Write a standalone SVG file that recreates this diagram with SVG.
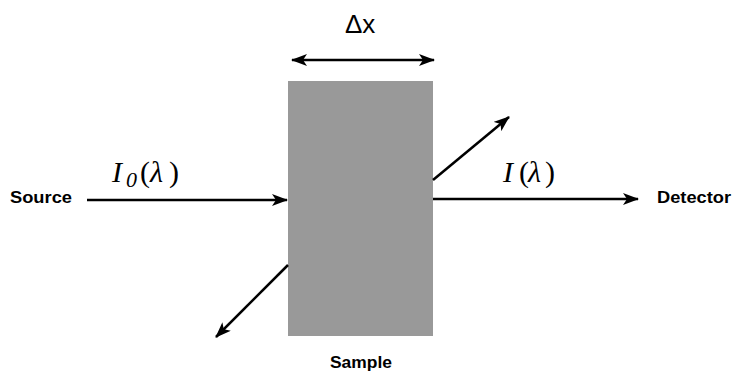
<svg xmlns="http://www.w3.org/2000/svg" width="732" height="373" viewBox="0 0 732 373">
<defs>
<marker id="ah" viewBox="0 0 16 12" refX="15" refY="6" markerWidth="16" markerHeight="12" markerUnits="userSpaceOnUse" orient="auto-start-reverse">
<path d="M0,0 L16,6 L0,12 L4,6 Z" fill="#000"/>
</marker>
<style>
.lbl{font-family:"Liberation Sans",Arial,sans-serif;font-weight:bold;font-size:16px;fill:#000}
.math{font-family:"Liberation Serif","Times New Roman",serif;font-size:30px;fill:#000}
.cn{stroke:#000;stroke-width:2.5;fill:none;marker-end:url(#ah)}
</style>
</defs>
<rect width="732" height="373" fill="#fff"/>
<g id="sample">
<rect x="288" y="81" width="145" height="255" fill="#999999"/>
<text class="lbl" x="330" y="368" textLength="62" lengthAdjust="spacingAndGlyphs">Sample</text>
</g>
<g id="source"><text class="lbl" x="10" y="203" textLength="62" lengthAdjust="spacingAndGlyphs">Source</text></g>
<g id="detector"><text class="lbl" x="657" y="203" textLength="74" lengthAdjust="spacingAndGlyphs">Detector</text></g>
<g id="labels">
<text x="345" y="33" font-family="Liberation Sans,Arial,sans-serif" font-size="26">Δx</text>
<text class="math" y="182"><tspan x="112" font-style="italic">I</tspan><tspan x="126" font-style="italic" font-size="22" dy="5">0</tspan><tspan x="140" dy="-5">(</tspan><tspan x="150" font-style="italic">λ</tspan><tspan x="169">)</tspan></text>
<text class="math" y="182"><tspan x="503" font-style="italic">I</tspan><tspan x="519">(</tspan><tspan x="528" font-style="italic">λ</tspan><tspan x="545">)</tspan></text>
</g>
<g id="connectors">
<line class="cn" x1="292" y1="60" x2="434" y2="60" style="marker-start:url(#ah)"/>
<line class="cn" x1="87" y1="200" x2="287" y2="200"/>
<line class="cn" x1="433" y1="199" x2="638" y2="199"/>
<line class="cn" x1="433" y1="180" x2="509" y2="117"/>
<line class="cn" x1="288" y1="265" x2="216" y2="337"/>
</g>
</svg>
